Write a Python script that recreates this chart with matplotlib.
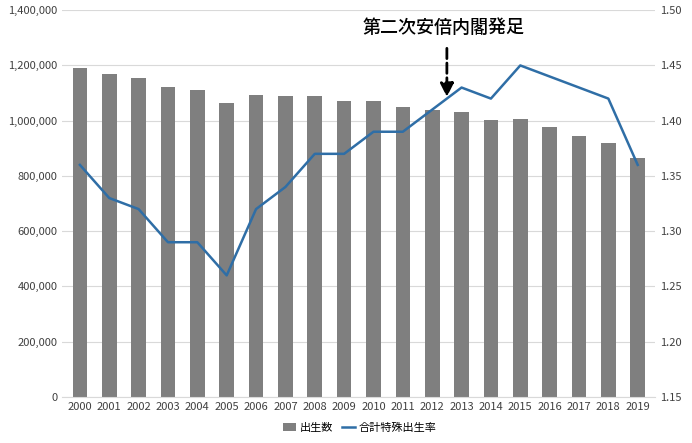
import matplotlib
matplotlib.use("Agg")
import matplotlib.pyplot as plt
from matplotlib.ticker import FuncFormatter

plt.rcParams['font.family'] = ['Noto Sans CJK JP', 'DejaVu Sans']

years = list(range(2000, 2020))
births = [1190547, 1170662, 1153855, 1123610, 1110721, 1062530, 1092674, 1089818,
          1091156, 1070035, 1071304, 1050806, 1037231, 1029816, 1003539, 1005677,
          976978, 946065, 918400, 865234]
tfr = [1.36, 1.33, 1.32, 1.29, 1.29, 1.26, 1.32, 1.34, 1.37, 1.37, 1.39, 1.39,
       1.41, 1.43, 1.42, 1.45, 1.44, 1.43, 1.42, 1.36]

fig = plt.figure(figsize=(6.92, 4.43), dpi=100)
ax = fig.add_axes([0.09, 0.104, 0.857, 0.873])
bars = ax.bar(years, births, width=0.5, color='#7f7f7f', label='出生数', zorder=2)
ax.set_ylim(0, 1400000)
ax.set_yticks(range(0, 1400001, 200000))
ax.yaxis.set_major_formatter(FuncFormatter(lambda v, p: f"{int(v):,}"))
ax.set_xlim(1999.4, 2019.6)
ax.set_xticks(years)
ax.grid(axis='y', color='#d9d9d9', lw=0.8, zorder=0)
for s in ax.spines.values():
    s.set_visible(False)
ax.spines['bottom'].set_visible(True)
ax.spines['bottom'].set_color('#d9d9d9')
ax.tick_params(length=0, labelsize=8, colors='#404040')

ax2 = ax.twinx()
line, = ax2.plot(years, tfr, color='#2f6ea6', lw=1.8, label='合計特殊出生率')
ax2.set_ylim(1.15, 1.50)
ax2.set_yticks([1.15, 1.20, 1.25, 1.30, 1.35, 1.40, 1.45, 1.50])
ax2.yaxis.set_major_formatter(FuncFormatter(lambda v, p: f"{v:.2f}"))
for s in ax2.spines.values():
    s.set_visible(False)
ax2.tick_params(length=0, labelsize=8, colors='#404040')

ax2.annotate('', xy=(2012.5, 1.419), xytext=(2012.5, 1.468),
             arrowprops=dict(arrowstyle='-|>', color='black', lw=2, ls='--',
                             mutation_scale=20))
ax2.text(2012.4, 1.484, '第二次安倍内閣発足', ha='center', va='center',
         fontsize=13, fontweight='medium')

fig.legend(handles=[bars, line], loc='lower center', bbox_to_anchor=(0.52, 0.0),
           ncol=2, frameon=False, fontsize=8, handlelength=1.2, columnspacing=0.8,
           handletextpad=0.3)
fig.savefig('out.png', dpi=100)
